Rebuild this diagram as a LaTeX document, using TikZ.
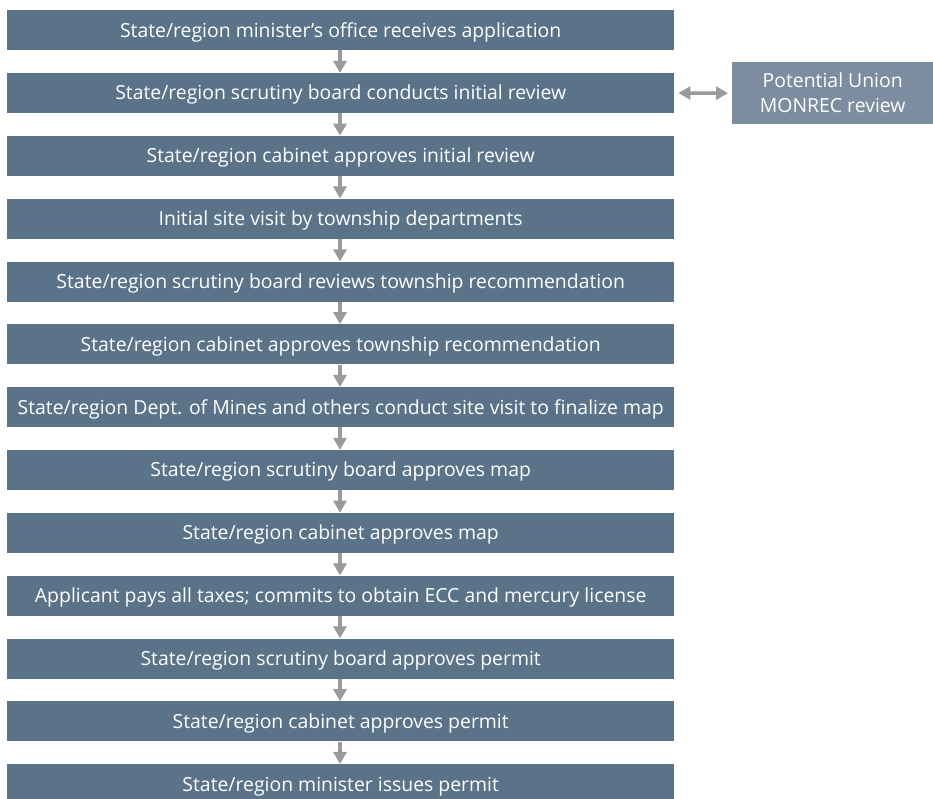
\documentclass[tikz,border=0pt]{standalone}
\usepackage{fontspec}
\setmainfont{Open Sans}
\usetikzlibrary{arrows.meta}
\definecolor{boxblue}{HTML}{5A7389}
\definecolor{boxlight}{HTML}{7B8D9F}
\definecolor{arrgray}{HTML}{9A9A9C}
\tikzset{
  stepbox/.style={fill=boxblue, draw=none, minimum width=667pt, minimum height=40pt, inner sep=0pt, text=white, font=\fontsize{19.4}{22}\selectfont, text height=13.8pt, text depth=0pt, anchor=north west},
  sidebox/.style={fill=boxlight, draw=none, minimum width=201pt, minimum height=62pt, inner sep=0pt, text=white, align=center, font=\fontsize{19.4}{25}\selectfont, anchor=north west},
  flow/.style={draw=arrgray, line width=3.5pt, -{Triangle[width=13pt,length=12pt]}},
  dflow/.style={draw=arrgray, line width=3.5pt, {Triangle[width=13pt,length=12pt]}-{Triangle[width=13pt,length=12pt]}}
}
\begin{document}
\begin{tikzpicture}[x=1pt,y=-1pt]
\useasboundingbox (0,0) rectangle (933,799);
\begin{scope}
\clip (0,0) rectangle (933,799);
\foreach \i/\t in {1/{State/region minister’s office receives application},
  2/{State/region scrutiny board conducts initial review},
  3/{State/region cabinet approves initial review},
  4/{Initial site visit by township departments},
  5/{State/region scrutiny board reviews township recommendation},
  6/{State/region cabinet approves township recommendation},
  7/{State/region Dept. of Mines and others conduct site visit to finalize map},
  8/{State/region scrutiny board approves map},
  9/{State/region cabinet approves map},
  10/{Applicant pays all taxes; commits to obtain ECC and mercury license},
  11/{State/region scrutiny board approves permit},
  12/{State/region cabinet approves permit},
  13/{State/region minister issues permit}}{
  \node[stepbox] (b\i) at (7,{10+(\i-1)*62.83}) {\t};
}
\foreach \i [evaluate=\i as \j using int(\i+1)] in {1,...,12}{
  \draw[flow] (b\i.south -| 340,0) -- (b\j.north -| 340,0);
}
\node[sidebox] (side) at (732,62) {Potential Union\\MONREC review};
\draw[dflow] (b2.east) ++(4,0) coordinate (l) -- (side.west -| 728,0);
\end{scope}
\end{tikzpicture}
\end{document}
